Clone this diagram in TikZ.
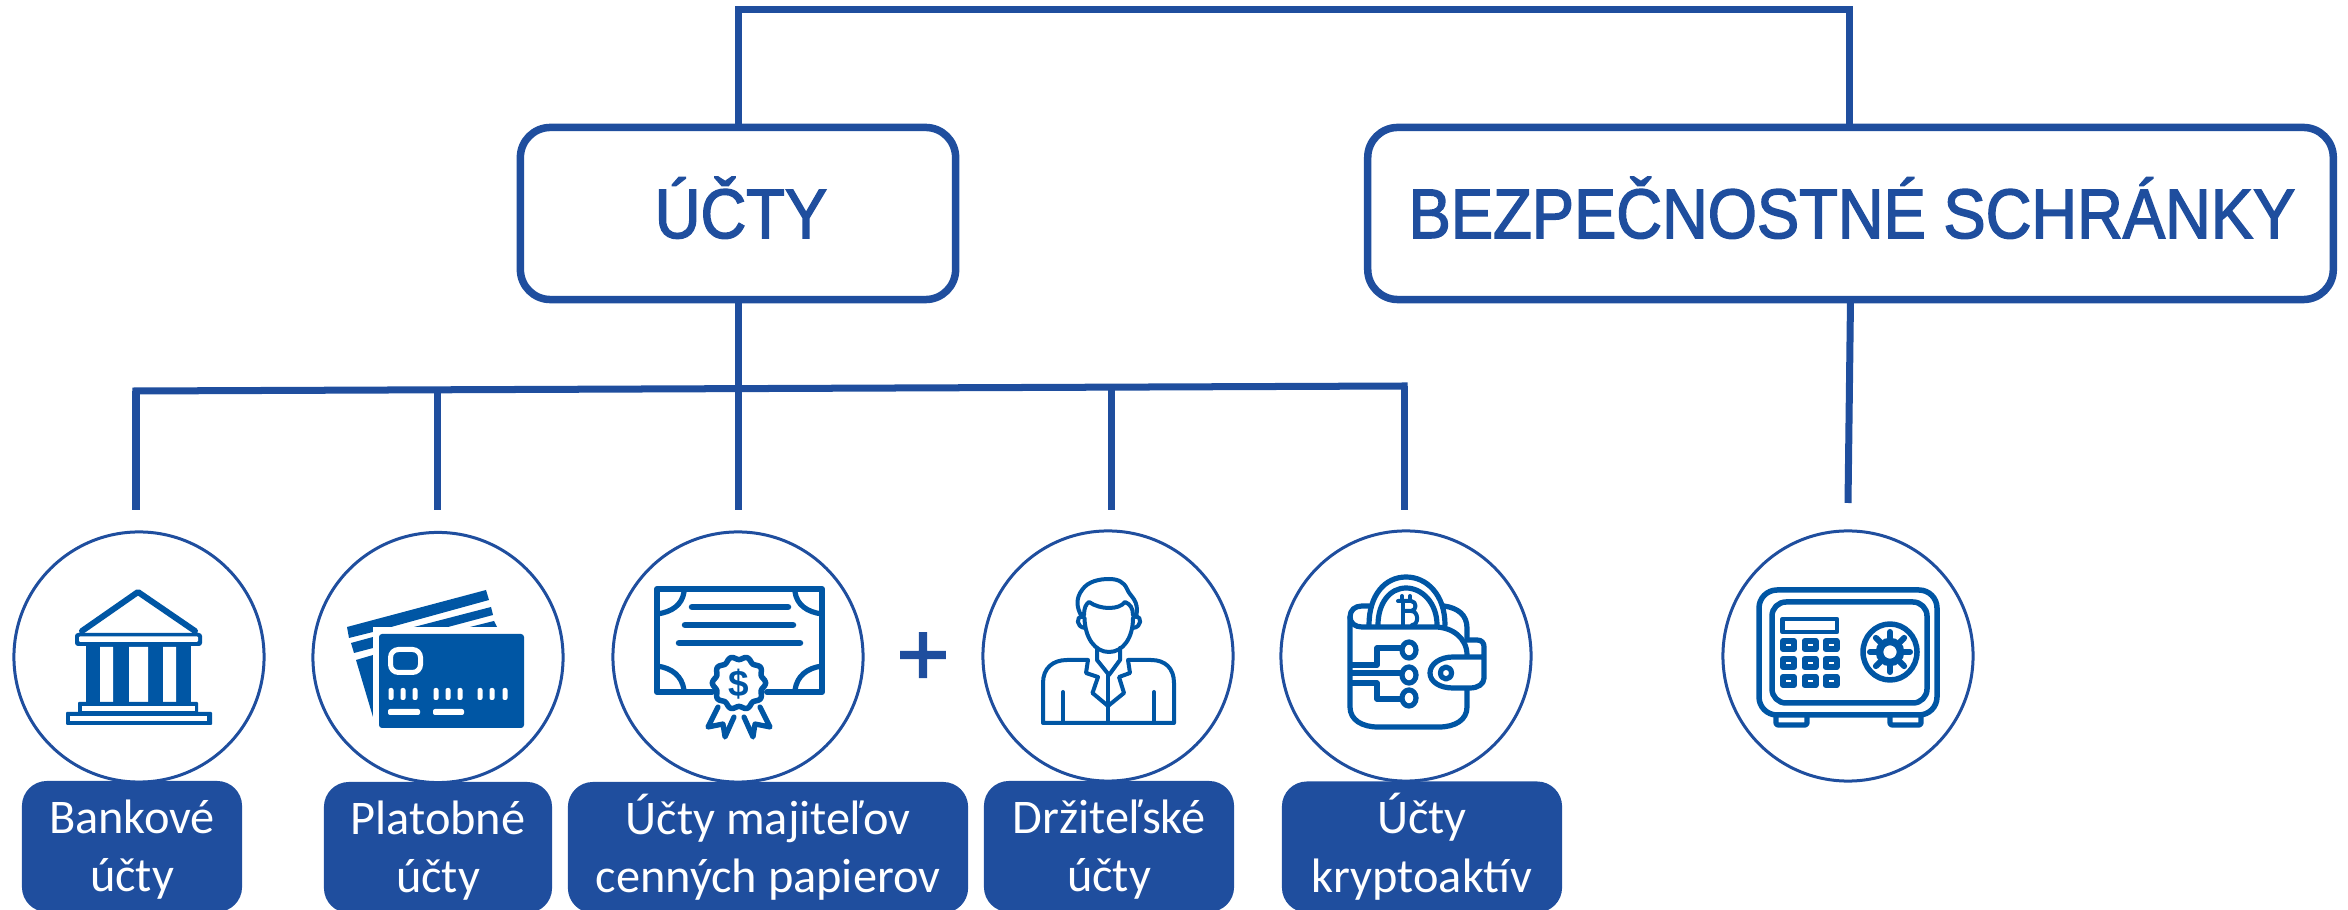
\documentclass[tikz,border=0pt]{standalone}
\usepackage{fontspec}
\usepackage{graphicx}
\setmainfont{Carlito}
\newfontfamily\headfont[FakeBold=2.2]{Liberation Sans}
\newfontfamily\plainfont{Liberation Sans}
\definecolor{navy}{HTML}{1F4E9E}
\definecolor{icon}{HTML}{0056A4}
\newcommand{\lblstrut}{\rule[-3pt]{0pt}{11pt}}
\newcommand{\lbltop}{\rule[-3pt]{0pt}{15pt}}
\tikzset{
  headbox/.style={draw=navy,line width=0.075cm,rounded corners=0.3cm,fill=white,minimum height=1.72cm,inner sep=0pt,outer sep=0pt,text=navy,font=\headfont\fontsize{19.9pt}{24pt}\selectfont},
  link/.style={draw=navy,line width=0.07cm},
  roundel/.style={draw=navy,line width=0.03cm,circle,minimum size=2.5cm,inner sep=0pt,outer sep=0pt,fill=white},
  lbl/.style={fill=navy,rounded corners=0.25cm,text=white,align=center,minimum height=1.31cm,inner sep=0pt,outer sep=0pt,font=\fontsize{13.75pt}{16.6pt}\selectfont},
  ln/.style={draw=icon,line width=0.052cm,line cap=round,line join=round},
  thn/.style={draw=icon,line width=0.04cm,line cap=round,line join=round}
}
\begin{document}
\begin{tikzpicture}[x=0.01cm,y=-0.01cm]
\useasboundingbox (0,0) rectangle (2348,910);
% header boxes
\node[headbox,minimum width=4.35cm] (ucty) at (738,213.5) {};
\node[headbox,minimum width=9.65cm] (bez) at (1850.5,213.5) {};
\node[anchor=base,text=navy,font=\headfont\fontsize{19.9pt}{24pt}\selectfont,inner sep=0pt] (tucty) at (741,238) {\scalebox{.905}[1]{ÚČTY}};
\node[anchor=base,text=navy,font=\headfont\fontsize{19.9pt}{24pt}\selectfont,inner sep=0pt] (tbez) at (1852,238) {\scalebox{.905}[1]{BEZPEČNOSTNÉ SCHRÁNKY}};
% connectors
\coordinate (tl) at (738,10);
\coordinate (tr) at (1849,10);
\draw[link,line join=miter] (ucty.north) -- (tl) -- (tr) -- (tr |- bez.north);
\coordinate (h1) at (136,391);
\coordinate (h2) at (437,390);
\coordinate (h3) at (738,389);
\coordinate (h4) at (1111,387);
\coordinate (h5) at (1404,386);
\draw[link,line cap=rect] (h1) -- (h5);
\draw[link] (ucty.south) -- (h3);
\coordinate (e1) at (136,510);
\coordinate (e2) at (437,510);
\coordinate (e3) at (738,510);
\coordinate (e4) at (1111,510);
\coordinate (e5) at (1404,510);
\coordinate (e6) at (1848,503);
\draw[link] (h1) -- (e1);
\draw[link] (h2) -- (e2);
\draw[link] (h3) -- (e3);
\draw[link] (h4) -- (e4);
\draw[link] (h5) -- (e5);
\draw[link] (bez.south) -- (e6);
% circles
\node[roundel] (c1) at (139,657) {};
\node[roundel] (c2) at (438,657.5) {};
\node[roundel] (c3) at (738,657) {};
\node[roundel] (c4) at (1108,656) {};
\node[roundel] (c5) at (1406,656) {};
\node[roundel] (c6) at (1848,656) {};
% labels
\node[lbl,minimum width=2.2cm] (l1) at (132,846.5) {\lbltop Bankové\\\lblstrut účty};
\node[lbl,minimum width=2.28cm] (l2) at (438,847.5) {\lbltop Platobné\\\lblstrut účty};
\node[lbl,minimum width=4cm] (l3) at (768,847.5) {\lbltop Účty majiteľov\\\lblstrut cenných papierov};
\node[lbl,minimum width=2.5cm] (l4) at (1109,846.5) {\lbltop Držiteľské\\\lblstrut účty};
\node[lbl,minimum width=2.8cm] (l5) at (1422,847) {\lbltop Účty\\\lblstrut kryptoaktív};
% plus
\node[text=navy,font=\headfont\fontsize{25.6pt}{30pt}\selectfont,inner sep=0pt] (plus) at (923,659) {+};
% bank icon
\draw[ln,line width=0.06cm] (82,631) -- (138,592) -- (195,631);
\fill[icon,rounded corners=0.03cm] (75,633) rectangle (202,646);
\fill[white,rounded corners=0.01cm] (79,636.5) rectangle (198,642);
\fill[icon] (86,645) rectangle (191,703);
\fill[white] (100,647) rectangle (113,702) (129,647) rectangle (148,702) (163,647) rectangle (176,702);
\fill[icon,rounded corners=0.01cm] (78,702) rectangle (198,714);
\fill[white] (82,706.5) rectangle (195,711);
\fill[icon,rounded corners=0.01cm] (66,712) rectangle (212,725);
\fill[white] (70,716.5) rectangle (207,721);
% card icon
\fill[icon] (347,627) -- (486,590) -- (489,600) -- (373,632) -- (349,638) -- cycle;
\fill[icon] (351,643) -- (373,637) -- (373,648) -- (354,653) -- cycle;
\fill[icon] (414,627) -- (491,607) -- (493,615) -- (448,627) -- cycle;
\fill[icon] (356,660) -- (373,655) -- (373,717) -- cycle;
\fill[icon] (470,627) -- (494,621) -- (497,627) -- cycle;
\fill[white] (373,627) rectangle (379,734);
\fill[white] (373,627) rectangle (524,634);
\fill[icon,rounded corners=0.03cm] (379,634) rectangle (524,728);
\draw[white,line width=0.05cm,rounded corners=0.08cm] (390.5,649.5) rectangle (420.5,672.5);
\foreach \dx in {391,403,415,436,448,460,480,492,505}{\fill[white,rounded corners=0.02cm] (\dx-2.5,688) rectangle (\dx+2.5,700);}
\fill[white,rounded corners=0.02cm] (388,709) rectangle (420,715) (433,709) rectangle (464,715);
% certificate icon
\draw[ln,line width=0.06cm] (712,692) -- (657,692) -- (657,589) -- (822,589) -- (822,692) -- (767,692);
\draw[ln] (684,592) .. controls (682,605) and (672,612) .. (657,614);
\draw[ln] (795,592) .. controls (797,605) and (807,612) .. (822,614);
\draw[ln] (657,666) .. controls (672,668) and (682,676) .. (684,690);
\draw[ln] (822,666) .. controls (807,668) and (797,676) .. (795,690);
\draw[ln,line width=0.065cm] (692,607) -- (788,607);
\draw[ln,line width=0.065cm] (685,625) -- (793,625);
\draw[ln,line width=0.065cm] (679,643) -- (800,643);
\draw[ln,fill=white] (718,707) -- (708,727) -- (723,724) -- (725,737) -- (734,717);
\draw[ln,fill=white] (760,707) -- (770,727) -- (755,724) -- (753,737) -- (744,717);
\draw[ln,line width=0.055cm,fill=white] plot[domain=0:360,samples=121,smooth] ({739+(25+1.6*cos(10*\x))*cos(\x)},{683+(25+1.6*cos(10*\x))*sin(\x)}) -- cycle;
\node[text=icon,font=\plainfont\bfseries\fontsize{10.5pt}{12pt}\selectfont,inner sep=0pt] (dollar) at (739,684) {\$};
% person icon
\draw[thn] (1082,617) .. controls (1076,607) and (1076,598) .. (1082,590) .. controls (1088,581) and (1100,579) .. (1109,579) .. controls (1118,579) and (1124,582) .. (1127,589) .. controls (1130,597) and (1140,600) .. (1136,617);
\draw[thn] (1084,615) .. controls (1084,608) and (1086,604) .. (1089,602) .. controls (1095,606) and (1102,608) .. (1109,608) .. controls (1116,608) and (1122,606) .. (1125,602) .. controls (1130,604) and (1133,608) .. (1133,615);
\draw[thn] (1084.5,618) .. controls (1085,638) and (1095,652) .. (1109,652) .. controls (1123,652) and (1133,638) .. (1133,618);
\draw[thn] (1082,616) .. controls (1076,617) and (1076,627) .. (1085,628);
\draw[thn] (1136,616) .. controls (1142,617) and (1142,627) .. (1133,628);
\draw[thn] (1097,648) -- (1097,660) -- (1109,675) -- (1120,660) -- (1120,648);
\draw[thn] (1043,723) -- (1043,683) .. controls (1043,668) and (1053,660) .. (1067,660) -- (1088,660) -- (1086,673) -- (1098,677) -- (1092.5,693) -- (1108,706) -- (1124,693) -- (1119,677) -- (1130,673) -- (1128,660) -- (1151,660) .. controls (1165,660) and (1174,668) .. (1174,683) -- (1174,723) -- cycle;
\draw[thn] (1063,692) -- (1063,723);
\draw[thn] (1154,692) -- (1154,723);
\draw[thn] (1108,675) -- (1108,723);
% wallet icon
\draw[ln] (1467,690) -- (1467,707) .. controls (1467,720) and (1455,727) .. (1439,727) -- (1378,727) .. controls (1362,727) and (1350,720) .. (1350,707) -- (1350,617) .. controls (1350,610) and (1355,606) .. (1362,606) -- (1369,606);
\draw[ln] (1350,617) .. controls (1350,623) and (1355,627) .. (1362,627) -- (1435,627) .. controls (1452,627) and (1467,638) .. (1467,655);
\draw[ln] (1444,606) .. controls (1458,608) and (1467,615) .. (1467,628) -- (1467,640);
\draw[ln] (1369,625) .. controls (1369,595) and (1385,577) .. (1406,577) .. controls (1427,577) and (1445,595) .. (1445,625);
\draw[ln] (1378,625) .. controls (1378,603) and (1390,588) .. (1406,588) .. controls (1422,588) and (1437,603) .. (1437,625);
\draw[thn] (1402,596) -- (1402,601) (1410,596) -- (1410,601) (1403,601) -- (1403,625);
\draw[thn] (1398,601) -- (1411,601) .. controls (1417,601) and (1417,611) .. (1411,611) -- (1403,611) (1411,611) .. controls (1419,611) and (1419,625) .. (1412,625);
\draw[ln] (1402,648) -- (1377,648) -- (1377,665) -- (1352,665);
\draw[ln] (1352,673) -- (1402,673);
\draw[ln] (1352,683) -- (1377,683) -- (1377,699) -- (1402,699);
\draw[ln,fill=white] (1409,650) ellipse [x radius=7,y radius=8];
\draw[ln,fill=white] (1409,675) ellipse [x radius=7,y radius=8];
\draw[ln,fill=white] (1409,698) ellipse [x radius=7,y radius=8];
\draw[ln,fill=white] (1468,640) -- (1477,640) .. controls (1482,640) and (1484,643) .. (1484,647) -- (1484,678) .. controls (1484,684) and (1478,688) .. (1470,688) -- (1453,688) .. controls (1440,688) and (1430,682) .. (1430,673) .. controls (1430,664) and (1440,657) .. (1453,657) -- (1483,657);
\draw[ln] (1446,673) ellipse [x radius=5.5,y radius=6];
% safe icon
\draw[ln,line width=0.055cm,rounded corners=0.18cm] (1759,590) rectangle (1937,715);
\draw[ln,line width=0.055cm,rounded corners=0.14cm] (1772,602) rectangle (1927,703);
\draw[ln,rounded corners=0.02cm] (1776,717) -- (1776,725) -- (1807,725) -- (1807,717);
\draw[ln,rounded corners=0.02cm] (1890,717) -- (1890,725) -- (1921,725) -- (1921,717);
\draw[ln,line width=0.045cm] (1782.5,619) rectangle (1837,632);
\foreach \kx in {1788.5,1810,1831}{\foreach \ky in {645,663,681}{
  \draw[icon,line width=0.06cm,line join=round] (\kx-5.5,\ky-4) rectangle (\kx+5.5,\ky+4);}}
\draw[ln,line width=0.055cm] (1890,652) ellipse [x radius=27,y radius=28];
\foreach \ang in {0,45,...,315}{\draw[icon,line width=0.06cm,line cap=round] (1890,652) ++(\ang:14) -- ++(\ang:6);}
\draw[icon,line width=0.075cm] (1890,652) circle [radius=10.5];
\end{tikzpicture}
\end{document}
